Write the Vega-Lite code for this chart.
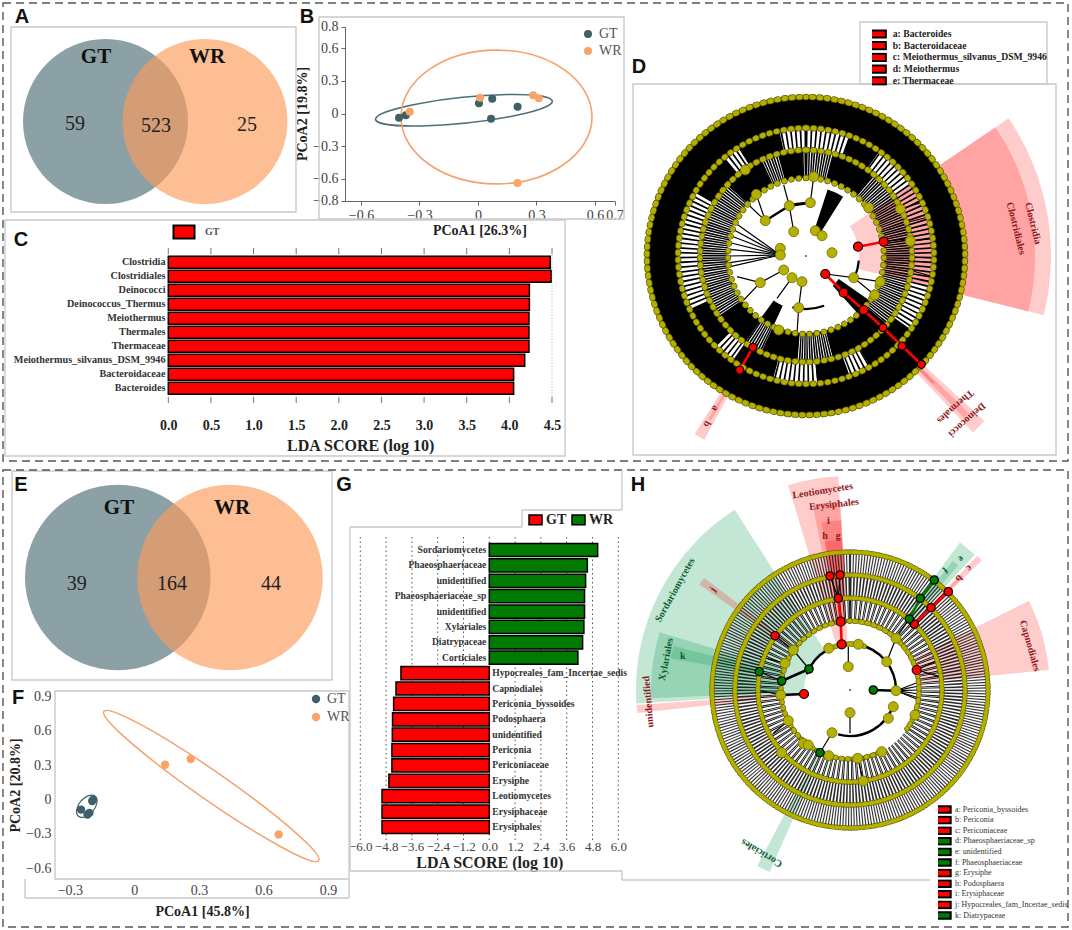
{
"$schema":"https://vega.github.io/schema/vega-lite/v6.json",
"width":1072,"height":930,"padding":0,"autosize":{"type":"none"},"background":"white",
"config":{"view":{"stroke":null},"axis":{"grid":false,"labelFont":"Liberation Serif","titleFont":"Liberation Serif","titleFontWeight":"bold","labelOverlap":false,"labelFlush":false},"text":{"font":"Liberation Serif"},"legend":{"labelFont":"Liberation Serif","titleFont":"Liberation Serif"}},
"resolve":{"scale":{"x":"independent","y":"independent","color":"independent","theta":"independent","radius":"independent"},"axis":{"x":"independent","y":"independent"},"legend":{"color":"independent"}},
"layer":[
{"encoding":{"x":{"field":"x","type":"quantitative","axis":null,"scale":{"domain":[0,1072],"range":[0,1072]}},"y":{"field":"y","type":"quantitative","axis":null,"scale":{"domain":[0,930],"range":[0,930]}}},
"layer":[
{"data":{"values":[{"x":11,"y":27,"x2":296,"y2":212},{"x":319,"y":17,"x2":624,"y2":219},{"x":5,"y":220,"x2":565,"y2":456},{"x":860,"y":22,"x2":1047,"y2":84},{"x":633,"y":84,"x2":1056,"y2":455},{"x":12,"y":471,"x2":332,"y2":680},{"x":55,"y":691,"x2":349,"y2":879}]},
"mark":{"type":"rect","fill":null,"fillOpacity":0,"stroke":"#c9c9c9","strokeWidth":1.4},"encoding":{"x2":{"field":"x2"},"y2":{"field":"y2"}}},
{"data":{"values":[{"x":350,"y":527,"x2":522,"y2":527},{"x":522,"y":510,"x2":522,"y2":527},{"x":522,"y":510,"x2":622,"y2":510},{"x":622,"y":471,"x2":622,"y2":510},{"x":350,"y":527,"x2":350,"y2":871},{"x":350,"y":871,"x2":622,"y2":871},{"x":622,"y":871,"x2":622,"y2":880},{"x":622,"y":880,"x2":930,"y2":880},{"x":25,"y":879,"x2":25,"y2":898},{"x":25,"y":898,"x2":349,"y2":898},{"x":349,"y":879,"x2":349,"y2":898}]},
"mark":{"type":"rule","stroke":"#c9c9c9","strokeWidth":1.4},"encoding":{"x2":{"field":"x2"},"y2":{"field":"y2"}}},
{"data":{"values":[{"x":3,"y":3,"x2":1068,"y2":461},{"x":3,"y":470,"x2":1068,"y2":927}]},
"mark":{"type":"rect","fill":null,"fillOpacity":0,"stroke":"#555555","strokeWidth":1.4,"strokeDash":[8,5]},"encoding":{"x2":{"field":"x2"},"y2":{"field":"y2"}}},
{"data":{"values":[{"x":105.5,"y":121.5,"s":"GT"},{"x":205,"y":121.5,"s":"WR"}]},
"mark":{"type":"point","filled":true,"size":27225,"opacity":0.65},"encoding":{"color":{"field":"s","type":"nominal","legend":null,"scale":{"domain":["GT","WR"],"range":["#4d6f75","#fc9b5a"]}}}},
{"data":{"values":[{"x":117.8,"y":577.5,"s":"GT"},{"x":230,"y":577.5,"s":"WR"}]},
"mark":{"type":"point","filled":true,"size":34447,"opacity":0.65},"encoding":{"color":{"field":"s","type":"nominal","legend":null}}},
{"data":{"values":[{"x":96,"y":57,"t":"GT"},{"x":207,"y":57,"t":"WR"},{"x":119,"y":508,"t":"GT"},{"x":232,"y":508,"t":"WR"}]},
"mark":{"type":"text","fontSize":21,"fontWeight":"bold","fill":"#111111","font":"Liberation Serif"},"encoding":{"text":{"field":"t"}}},
{"data":{"values":[{"x":75,"y":124,"t":"59"},{"x":156,"y":126,"t":"523"},{"x":247,"y":125,"t":"25"},{"x":76.7,"y":584,"t":"39"},{"x":172,"y":584,"t":"164"},{"x":271,"y":584,"t":"44"}]},
"mark":{"type":"text","fontSize":20,"fill":"#222222","font":"Liberation Serif"},"encoding":{"text":{"field":"t"}}},
{"data":{"values":[{"x":22,"y":17,"t":"A"},{"x":307,"y":17,"t":"B"},{"x":21,"y":240,"t":"C"},{"x":639,"y":67,"t":"D"},{"x":21,"y":485,"t":"E"},{"x":18,"y":698,"t":"F"},{"x":344,"y":485,"t":"G"},{"x":638,"y":485,"t":"H"}]},
"mark":{"type":"text","fontSize":20,"fontWeight":"bold","fill":"#111111","font":"Liberation Sans"},"encoding":{"text":{"field":"t"}}}
]},

{"encoding":{"x":{"field":"x","type":"quantitative","title":"PCoA1 [26.3%]","scale":{"domain":[-0.685,0.7],"range":[344.4,614.5]},"axis":{"orient":"bottom","offset":-729,"values":[-0.6,-0.3,0,0.3,0.6,0.7],"format":".2~f","labelFontSize":14,"labelColor":"#444444","titleFontSize":14,"titleColor":"#222222","tickColor":"#666666","domainColor":"#666666","tickSize":4,"labelPadding":3,"titlePadding":1}},
"y":{"field":"y","type":"quantitative","title":"PCoA2 [19.8%]","scale":{"domain":[-0.8,0.8],"range":[200.5,26.5]},"axis":{"orient":"left","offset":-345,"values":[-0.8,-0.6,-0.3,0,0.3,0.6,0.8],"format":".2~f","labelFontSize":14,"labelColor":"#444444","titleFontSize":14,"titleColor":"#222222","tickColor":"#666666","domainColor":"#666666","tickSize":4,"labelPadding":3,"titlePadding":3}}},
"layer":[
{"data":{"values":[{"x":-0.072,"y":0.03}]},"mark":{"type":"point","filled":false,"opacity":1,"stroke":"#4d6f75","strokeWidth":1.6,"size":31613,"shape":"M -0.9947 0.1028 A 1 0.145 -5.9 1 1 0.9947 -0.1028 A 1 0.145 -5.9 1 1 -0.9947 0.1028 Z"}},
{"data":{"values":[{"x":0.095,"y":-0.032}]},"mark":{"type":"point","filled":false,"opacity":1,"stroke":"#f4a36c","strokeWidth":1.6,"size":36481,"shape":"M -1 0 A 1 0.7 0 1 1 1 0 A 1 0.7 0 1 1 -1 0 Z"}},
{"data":{"values":[{"x":-0.405,"y":-0.038,"g":"GT"},{"x":-0.37,"y":-0.017,"g":"GT"},{"x":0.005,"y":0.094,"g":"GT"},{"x":0.073,"y":0.136,"g":"GT"},{"x":0.203,"y":0.063,"g":"GT"},{"x":0.067,"y":-0.048,"g":"GT"},{"x":-0.35,"y":0.017,"g":"WR"},{"x":0.011,"y":0.145,"g":"WR"},{"x":0.283,"y":0.167,"g":"WR"},{"x":0.312,"y":0.14,"g":"WR"},{"x":0.203,"y":-0.639,"g":"WR"}]},
"mark":{"type":"point","filled":true,"opacity":1,"size":64},
"encoding":{"color":{"field":"g","type":"nominal","scale":{"domain":["GT","WR"],"range":["#3e6068","#f8a469"]},"legend":{"orient":"none","legendX":581,"legendY":27,"title":null,"padding":0,"labelFontSize":14,"labelColor":"#555555","symbolSize":64,"rowPadding":3,"labelOffset":4}}}}
]},

{"data":{"values":[{"n":"Clostridia","v":4.48,"g":"GT"},{"n":"Clostridiales","v":4.49,"g":"GT"},{"n":"Deinococci","v":4.235,"g":"GT"},{"n":"Deinococcus_Thermus","v":4.235,"g":"GT"},{"n":"Meiothermus","v":4.23,"g":"GT"},{"n":"Thermales","v":4.23,"g":"GT"},{"n":"Thermaceae","v":4.23,"g":"GT"},{"n":"Meiothermus_silvanus_DSM_9946","v":4.18,"g":"GT"},{"n":"Bacteroidaceae","v":4.05,"g":"GT"},{"n":"Bacteroides","v":4.05,"g":"GT"}]},
"mark":{"type":"bar","stroke":"#000000","strokeWidth":1.5},
"encoding":{"x":{"field":"v","type":"quantitative","title":"LDA SCORE (log 10)","scale":{"domain":[0,4.5],"range":[168.3,552]},"axis":{"orient":"bottom","offset":-527,"values":[0,0.5,1,1.5,2,2.5,3,3.5,4,4.5],"format":".1f","ticks":false,"domain":false,"labelFontSize":14,"labelFontWeight":"bold","labelColor":"#222222","labelPadding":15,"titleFontSize":16,"titleColor":"#222222","titlePadding":5}},
"y":{"field":"n","type":"nominal","sort":null,"title":null,"scale":{"type":"band","domain":["Clostridia","Clostridiales","Deinococci","Deinococcus_Thermus","Meiothermus","Thermales","Thermaceae","Meiothermus_silvanus_DSM_9946","Bacteroidaceae","Bacteroides"],"range":[255.3,395.3],"paddingInner":0.14,"paddingOuter":0.07},"axis":{"orient":"left","offset":-168,"ticks":false,"domain":false,"labelFontSize":10.2,"labelFontWeight":"bold","labelColor":"#333333","labelPadding":3,"labelLimit":300}},
"color":{"field":"g","type":"nominal","scale":{"domain":["GT"],"range":["#ff0000"]},"legend":{"orient":"none","legendX":179,"legendY":227,"title":null,"padding":0,"labelFontSize":10,"labelFontWeight":"bold","labelColor":"#555555","symbolType":"M-3,-1.85H3V1.85H-3Z","symbolSize":49,"symbolStrokeWidth":2,"symbolStrokeColor":"#000000","labelOffset":16}}}},

{"encoding":{"x":{"field":"v","type":"quantitative","axis":null,"scale":{"domain":[0,4.5],"range":[168.3,552]}},"y":{"field":"a","type":"quantitative","axis":null,"scale":{"domain":[0,1],"range":[403,248]}},"y2":{"field":"b"}},
"layer":[
{"data":{"values":[{"v":0,"a":0,"b":0.04},{"v":0.5,"a":0,"b":0.04},{"v":1,"a":0,"b":0.04},{"v":1.5,"a":0,"b":0.04},{"v":2,"a":0,"b":0.04},{"v":2.5,"a":0,"b":0.04},{"v":3,"a":0,"b":0.04},{"v":3.5,"a":0,"b":0.04},{"v":4,"a":0,"b":0.04},{"v":4.5,"a":0,"b":0.04},{"v":0,"a":0.96,"b":1},{"v":0.5,"a":0.96,"b":1},{"v":1,"a":0.96,"b":1},{"v":1.5,"a":0.96,"b":1},{"v":2,"a":0.96,"b":1},{"v":2.5,"a":0.96,"b":1},{"v":3,"a":0.96,"b":1},{"v":3.5,"a":0.96,"b":1},{"v":4,"a":0.96,"b":1},{"v":4.5,"a":0.96,"b":1}]},"mark":{"type":"rule","stroke":"#777777","strokeWidth":1}},
{"data":{"values":[{"v":4.5,"a":0.04,"b":0.96}]},"mark":{"type":"rule","stroke":"#aaaaaa","strokeWidth":1,"strokeDash":[1,2]}}
]},

{"encoding":{"x":{"field":"v","type":"quantitative","axis":null,"scale":{"domain":[-6,6],"range":[360.3,618.3]}},"y":{"field":"a","type":"quantitative","axis":null,"scale":{"domain":[0,1],"range":[840,535]}},"y2":{"field":"b"}},
"data":{"values":[{"v":-6,"a":0,"b":1},{"v":-4.8,"a":0,"b":1},{"v":-3.6,"a":0,"b":1},{"v":-2.4,"a":0,"b":1},{"v":-1.2,"a":0,"b":1},{"v":0,"a":0,"b":1},{"v":1.2,"a":0,"b":1},{"v":2.4,"a":0,"b":1},{"v":3.6,"a":0,"b":1},{"v":4.8,"a":0,"b":1},{"v":6,"a":0,"b":1}]},
"mark":{"type":"rule","stroke":"#555555","strokeWidth":1,"strokeDash":[1.5,3]}},

{"data":{"values":[{"n":"Sordariomycetes","i":1,"v":5.04,"g":"WR"},{"n":"Phaeosphaeriaceae","i":2,"v":4.56,"g":"WR"},{"n":"unidentified","i":3,"v":4.48,"g":"WR"},{"n":"Phaeosphaeriaceae_sp","i":4,"v":4.43,"g":"WR"},{"n":"unidentified","i":5,"v":4.43,"g":"WR"},{"n":"Xylariales","i":6,"v":4.4,"g":"WR"},{"n":"Diatrypaceae","i":7,"v":4.34,"g":"WR"},{"n":"Corticiales","i":8,"v":4.12,"g":"WR"},{"n":"Hypocreales_fam_Incertae_sedis","i":9,"v":-4.11,"g":"GT"},{"n":"Capnodiales","i":10,"v":-4.34,"g":"GT"},{"n":"Periconia_byssoides","i":11,"v":-4.45,"g":"GT"},{"n":"Podosphaera","i":12,"v":-4.5,"g":"GT"},{"n":"unidentified","i":13,"v":-4.51,"g":"GT"},{"n":"Periconia","i":14,"v":-4.53,"g":"GT"},{"n":"Periconiaceae","i":15,"v":-4.53,"g":"GT"},{"n":"Erysiphe","i":16,"v":-4.67,"g":"GT"},{"n":"Leotiomycetes","i":17,"v":-4.99,"g":"GT"},{"n":"Erysiphaceae","i":18,"v":-4.99,"g":"GT"},{"n":"Erysiphales","i":19,"v":-4.99,"g":"GT"}]},
"encoding":{"y":{"field":"i","type":"ordinal","axis":null,"scale":{"type":"band","domain":[1,2,3,4,5,6,7,8,9,10,11,12,13,14,15,16,17,18,19],"range":[542.3,834.7],"paddingInner":0.14,"paddingOuter":0.07}}},
"layer":[
{"mark":{"type":"bar","stroke":"#000000","strokeWidth":1.5},
"encoding":{"x":{"field":"v","type":"quantitative","title":"LDA SCORE (log 10)","scale":{"domain":[-6,6],"range":[360.3,618.3]},"axis":{"orient":"bottom","offset":-95,"values":[-6,-4.8,-3.6,-2.4,-1.2,0,1.2,2.4,3.6,4.8,6],"format":".1f","ticks":false,"domain":false,"labelFontSize":13,"labelColor":"#444444","labelPadding":5,"titleFontSize":16,"titleColor":"#222222","titlePadding":1}},
"color":{"field":"g","type":"nominal","scale":{"domain":["GT","WR"],"range":["#ff0000","#007a00"]},"legend":{"orient":"none","legendX":528,"legendY":512,"direction":"horizontal","columns":2,"title":null,"padding":0,"labelFontSize":14,"labelFontWeight":"bold","labelColor":"#222222","symbolType":"M-1,-0.75H1V0.75H-1Z","symbolSize":169,"symbolStrokeWidth":1.5,"symbolStrokeColor":"#000000","labelOffset":3,"columnPadding":2}}}},
{"transform":[{"filter":"datum.g=='WR'"}],"mark":{"type":"text","align":"right","dx":-3,"fontSize":9.6,"fontWeight":"bold","fill":"#333333","font":"Liberation Serif"},"encoding":{"x":{"datum":0,"type":"quantitative"},"text":{"field":"n"}}},
{"transform":[{"filter":"datum.g=='GT'"}],"mark":{"type":"text","align":"left","dx":3,"fontSize":9.6,"fontWeight":"bold","fill":"#333333","font":"Liberation Serif"},"encoding":{"x":{"datum":0,"type":"quantitative"},"text":{"field":"n"}}}
]},

{"encoding":{"x":{"field":"x","type":"quantitative","title":"PCoA1 [45.8%]","scale":{"domain":[-0.369,0.998],"range":[55,349]},"axis":{"orient":"bottom","offset":-51,"values":[-0.3,0,0.3,0.6,0.9],"format":".2~f","domain":false,"ticks":false,"labelFontSize":14,"labelColor":"#444444","labelPadding":4,"titleFontSize":14,"titleColor":"#222222","titlePadding":7}},
"y":{"field":"y","type":"quantitative","title":"PCoA2 [20.8%]","scale":{"domain":[-0.693,0.948],"range":[879,691]},"axis":{"orient":"left","offset":-55,"values":[-0.6,-0.3,0,0.3,0.6,0.9],"format":".2~f","domain":false,"ticks":false,"labelFontSize":14,"labelColor":"#444444","labelPadding":4,"titleFontSize":14,"titleColor":"#222222","titlePadding":3}}},
"layer":[
{"data":{"values":[{"x":0.358,"y":0.119}]},"mark":{"type":"point","filled":false,"opacity":1,"stroke":"#f4a36c","strokeWidth":1.5,"size":68435,"shape":"M -0.821 -0.571 A 1 0.11 34.8 1 1 0.821 0.571 A 1 0.11 34.8 1 1 -0.821 -0.571 Z"}},
{"data":{"values":[{"x":-0.221,"y":-0.058}]},"mark":{"type":"point","filled":false,"opacity":1,"stroke":"#3e6068","strokeWidth":1.2,"size":676,"shape":"M -0.643 0.766 A 1 0.6 -50 1 1 0.643 -0.766 A 1 0.6 -50 1 1 -0.643 0.766 Z"}},
{"data":{"values":[{"x":-0.248,"y":-0.087,"g":"GT"},{"x":-0.209,"y":-0.116,"g":"GT"},{"x":-0.192,"y":0,"g":"GT"},{"x":-0.196,"y":-0.012,"g":"GT"},{"x":-0.218,"y":-0.13,"g":"GT"},{"x":0.143,"y":0.304,"g":"WR"},{"x":0.262,"y":0.354,"g":"WR"},{"x":0.671,"y":-0.304,"g":"WR"}]},
"mark":{"type":"point","filled":true,"opacity":1,"size":70},
"encoding":{"color":{"field":"g","type":"nominal","scale":{"domain":["GT","WR"],"range":["#3e6068","#f8a469"]},"legend":{"orient":"none","legendX":309,"legendY":692,"title":null,"padding":0,"labelFontSize":14,"labelColor":"#555555","symbolSize":70,"rowPadding":4,"labelOffset":4}}}}
]},

{"encoding":{"x":{"field":"x","type":"quantitative","axis":null,"scale":{"domain":[-200,250],"range":[606,1056]}},"y":{"field":"y","type":"quantitative","axis":null,"scale":{"domain":[-220,240],"range":[476,16]}},
"theta":{"field":"t","type":"quantitative","stack":null,"scale":{"domain":[0,360],"range":[0,6.28319]}},"theta2":{"field":"t2"},"radius":{"field":"r","type":"quantitative","scale":{"type":"linear","domain":[0,250],"range":[0,250]}},"radius2":{"field":"r0"}},
"layer":[
{"data":{"values":[{"x":0,"y":0,"t":55.8,"t2":104,"r0":53,"r":245},{"x":0,"y":0,"t":55.8,"t2":104,"r0":78,"r":229},{"x":0,"y":0,"t":132.8,"t2":136.6,"r0":26,"r":243},{"x":0,"y":0,"t":134,"t2":135.6,"r0":53,"r":226},{"x":0,"y":0,"t":134.4,"t2":135.2,"r0":79,"r":180},{"x":0,"y":0,"t":209,"t2":212,"r0":105,"r":210},{"x":0,"y":0,"t":210,"t2":211,"r0":132,"r":190}]},
"mark":{"type":"arc","fill":"#ff0000","fillOpacity":0.2}},
{"data":{"values":[{"x":0,"y":0,"t":0,"t2":360,"r0":128,"r":159},{"x":0,"y":0,"t":300,"t2":320,"r0":106,"r":128},{"x":0,"y":0,"t":328,"t2":348,"r0":106,"r":128},{"x":0,"y":0,"t":20,"t2":35,"r0":106,"r":128},{"x":0,"y":0,"t":125,"t2":150,"r0":106,"r":128},{"x":0,"y":0,"t":160,"t2":175,"r0":106,"r":128},{"x":0,"y":0,"t":195,"t2":215,"r0":106,"r":128},{"x":0,"y":0,"t":225,"t2":245,"r0":106,"r":128},{"x":0,"y":0,"t":345,"t2":358,"r0":78,"r":106},{"x":0,"y":0,"t":15,"t2":40,"r0":78,"r":106},{"x":0,"y":0,"t":130,"t2":165,"r0":78,"r":106},{"x":0,"y":0,"t":185,"t2":205,"r0":78,"r":106},{"x":0,"y":0,"t":215,"t2":235,"r0":78,"r":106},{"x":0,"y":0,"t":312,"t2":325,"r0":78,"r":106},{"x":0,"y":0,"t":18,"t2":32,"r0":28,"r":70},{"x":0,"y":0,"t":125,"t2":138,"r0":40,"r":78},{"x":0,"y":0,"t":205,"t2":216,"r0":55,"r":78},{"x":0,"y":0,"t":320,"t2":335,"r0":78,"r":106}]},
"mark":{"type":"arc","fill":"#000000"}},
{"data":{"values":[{"x":0,"y":0,"t":0,"t2":360,"r0":92,"r":92}]},"mark":{"type":"arc","filled":false,"stroke":"#000000","strokeWidth":27,"strokeDash":[1.5,3.2]}},
{"data":{"values":[{"x":0,"y":0,"t":0,"t2":360,"r0":117,"r":117}]},"mark":{"type":"arc","filled":false,"stroke":"#000000","strokeWidth":22,"strokeDash":[1.5,3]}},
{"data":{"values":[{"x":0,"y":0,"t":95,"t2":113,"r0":53,"r":53},{"x":0,"y":0,"t":160,"t2":195,"r0":53,"r":53},{"x":0,"y":0,"t":340,"t2":365,"r0":53,"r":53},{"x":0,"y":0,"t":160,"t2":200,"r0":78,"r":78}]},"mark":{"type":"arc","filled":false,"stroke":"#000000","strokeWidth":2.2}},
{"data":{"values":[{"x":-12.3,"y":24.3,"x2":-16.7,"y2":50.3},{"x":-40.7,"y":35.3,"x2":-57.3,"y2":51},{"x":-40.7,"y":35.3,"x2":-49.7,"y2":61.7},{"x":4.3,"y":53.3,"x2":7.7,"y2":79.3},{"x":-16.7,"y":50.3,"x2":-22.3,"y2":71},{"x":-49.7,"y":61.7,"x2":-60.7,"y2":86},{"x":77.7,"y":14.3,"x2":104.3,"y2":17.7},{"x":104.3,"y":15,"x2":127.7,"y2":17.7},{"x":94.3,"y":47,"x2":118,"y2":54.3},{"x":99,"y":33,"x2":122,"y2":39},{"x":105,"y":-1,"x2":128,"y2":-2},{"x":103,"y":-14,"x2":125,"y2":-20},{"x":47.7,"y":-21.7,"x2":74.3,"y2":-25.7},{"x":47.7,"y":-21.7,"x2":68.7,"y2":-39},{"x":-4,"y":-25.7,"x2":-7.3,"y2":-51.7},{"x":-7.3,"y":-51.7,"x2":-9,"y2":-77.3},{"x":-27.3,"y":-74,"x2":-31.7,"y2":-97.3},{"x":-22.3,"y":-14,"x2":-45.7,"y2":-26.7},{"x":-45.7,"y":-26.7,"x2":-62.3,"y2":-44},{"x":-45.7,"y":-26.7,"x2":-69,"y2":-20.7},{"x":-14,"y":-21.7,"x2":-29,"y2":-42.3},{"x":-25.7,"y":1,"x2":-75.3,"y2":20.2},{"x":-25.7,"y":1,"x2":-76.8,"y2":13.5},{"x":-25.7,"y":1,"x2":-77.7,"y2":6.8},{"x":-25.7,"y":1,"x2":-78,"y2":0},{"x":-25.7,"y":1,"x2":-77.7,"y2":-6.8},{"x":-25.7,"y":1,"x2":-73.3,"y2":26.7},{"x":-25.7,"y":1,"x2":-70.7,"y2":33},{"x":-25.7,"y":1,"x2":-77,"y2":-10.9},{"x":19.3,"y":-18,"x2":47.7,"y2":-21.7}]},
"mark":{"type":"rule","stroke":"#000000","strokeWidth":1.2},"encoding":{"x2":{"field":"x2"},"y2":{"field":"y2"}}},
{"data":{"values":[{"x":-16.7,"y":50.3,"x2":4.3,"y2":53.3},{"x":-16.7,"y":50.3,"x2":-40.7,"y2":35.3}]},"mark":{"type":"rule","stroke":"#000000","strokeWidth":2.4},"encoding":{"x2":{"field":"x2"},"y2":{"field":"y2"}}},
{"data":{"values":[{"x":52,"y":9.3,"x2":77.7,"y2":14.3},{"x":19.3,"y":-18,"x2":37.7,"y2":-36.7},{"x":37.7,"y":-36.7,"x2":57.7,"y2":-54},{"x":57.7,"y":-54,"x2":77,"y2":-71.7},{"x":77,"y":-71.7,"x2":96,"y2":-90},{"x":96,"y":-90,"x2":115.3,"y2":-108.3},{"x":-53,"y":-91.3,"x2":-66.3,"y2":-114}]},"mark":{"type":"rule","stroke":"#ff0000","strokeWidth":2.6},"encoding":{"x2":{"field":"x2"},"y2":{"field":"y2"}}},
{"data":{"values":[{"x":0,"y":0,"t":0,"t2":360,"r0":159,"r":159},{"x":0,"y":0,"t":0,"t2":360,"r0":128,"r":128},{"x":0,"y":0,"t":0,"t2":360,"r0":106,"r":106},{"x":0,"y":0,"t":0,"t2":360,"r0":78,"r":78}]},"mark":{"type":"arc","filled":false,"stroke":"#5f5a00","strokeWidth":6.4,"strokeCap":"round","strokeDash":[0.1,7.2]}},
{"data":{"values":[{"x":0,"y":0,"t":0,"t2":360,"r0":159,"r":159},{"x":0,"y":0,"t":0,"t2":360,"r0":128,"r":128},{"x":0,"y":0,"t":0,"t2":360,"r0":106,"r":106},{"x":0,"y":0,"t":0,"t2":360,"r0":78,"r":78}]},"mark":{"type":"arc","filled":false,"stroke":"#b4b000","strokeWidth":5,"strokeCap":"round","strokeDash":[0.1,7.2]}},
{"data":{"values":[{"x":-12.3,"y":24.3},{"x":26,"y":3.3},{"x":-4,"y":-25.7},{"x":-22.3,"y":-14},{"x":4.3,"y":53.3},{"x":-40.7,"y":35.3},{"x":-16.7,"y":50.3},{"x":9.3,"y":25.3},{"x":16,"y":20.3},{"x":47.7,"y":-21.7},{"x":-7.3,"y":-51.7},{"x":-27.3,"y":-74},{"x":-45.7,"y":-26.7},{"x":-14,"y":-21.7},{"x":-25.7,"y":7.7},{"x":-25.7,"y":1},{"x":-49.7,"y":61.7},{"x":-60.7,"y":86},{"x":7.7,"y":79.3},{"x":74.3,"y":-25.7},{"x":68.7,"y":-39},{"x":104.3,"y":15},{"x":94.3,"y":47},{"x":62.7,"y":48.3}]},"mark":{"type":"point","filled":true,"opacity":1,"fill":"#b4b000","stroke":"#6f6a00","strokeWidth":0.8,"size":100}},
{"data":{"values":[{"x":0,"y":0}]},"mark":{"type":"point","filled":true,"opacity":1,"fill":"#556b2f","size":5}},
{"data":{"values":[{"x":52,"y":9.3},{"x":77.7,"y":14.3},{"x":57.7,"y":-54},{"x":37.7,"y":-36.7},{"x":19.3,"y":-18}]},"mark":{"type":"point","filled":true,"opacity":1,"fill":"#ff0000","stroke":"#000000","strokeWidth":1.2,"size":81}},
{"data":{"values":[{"x":-66.3,"y":-114,"n":"a: Bacteroides"},{"x":-53,"y":-91.3,"n":"b: Bacteroidaceae"},{"x":115.3,"y":-108.3,"n":"c: Meiothermus_silvanus_DSM_9946"},{"x":96,"y":-90,"n":"d: Meiothermus"},{"x":77,"y":-71.7,"n":"e: Thermaceae"}]},
"mark":{"type":"point","filled":true,"opacity":1,"stroke":"#000000","strokeWidth":1.2,"size":64},
"encoding":{"color":{"field":"n","type":"nominal","scale":{"domain":["a: Bacteroides","b: Bacteroidaceae","c: Meiothermus_silvanus_DSM_9946","d: Meiothermus","e: Thermaceae"],"range":["#ff0000","#ff0000","#ff0000","#ff0000","#ff0000"]},"legend":{"orient":"none","legendX":872,"legendY":29,"title":null,"padding":0,"labelFontSize":9.7,"labelFontWeight":"bold","labelColor":"#222222","labelLimit":300,"symbolType":"M-3,-1.2H3V1.2H-3Z","symbolSize":36,"symbolStrokeWidth":2,"symbolStrokeColor":"#000000","labelOffset":11,"rowPadding":1.7,"clipHeight":10}}}}
]},

{"data":{"values":[{"x":227,"y":32.7,"n":"Clostridia","b":76},{"x":210,"y":27.7,"n":"Clostridiales","b":76},{"x":149.3,"y":-150.7,"n":"Thermales","b":138},{"x":161,"y":-164,"n":"Deinococci","b":138},{"x":-90.7,"y":-152.3,"n":"a","b":120},{"x":-99,"y":-168,"n":"b","b":120}]},
"mark":{"type":"text","fontSize":10,"fontWeight":"bold","fill":"#8b1a1a","font":"Liberation Serif"},
"encoding":{"x":{"field":"x","type":"quantitative","axis":null,"scale":{"domain":[-200,250],"range":[606,1056]}},"y":{"field":"y","type":"quantitative","axis":null,"scale":{"domain":[-220,240],"range":[476,16]}},"text":{"field":"n"},"angle":{"field":"b","type":"quantitative","scale":null}}},

{"encoding":{"x":{"field":"x","type":"quantitative","axis":null,"scale":{"domain":[-220,220],"range":[630,1070]}},"y":{"field":"y","type":"quantitative","axis":null,"scale":{"domain":[-235,220],"range":[925,470]}},
"theta":{"field":"t","type":"quantitative","stack":null,"scale":{"domain":[0,360],"range":[0,6.28319]}},"theta2":{"field":"t2"},"radius":{"field":"r","type":"quantitative","scale":{"type":"linear","domain":[0,250],"range":[0,250]}},"radius2":{"field":"r0"}},
"layer":[
{"data":{"values":[{"x":0,"y":0,"t":266.4,"t2":327.4,"r0":46,"r":214},{"x":0,"y":0,"t":267.6,"t2":286.9,"r0":69,"r":199},{"x":0,"y":0,"t":280,"t2":284,"r0":92,"r":182},{"x":0,"y":0,"t":203.8,"t2":207.8,"r0":69,"r":199},{"x":0,"y":0,"t":36.7,"t2":42.7,"r0":92,"r":184},{"x":0,"y":0,"t":38.5,"t2":41,"r0":115,"r":165}]},
"mark":{"type":"arc","fill":"#0a9a50","fillOpacity":0.24}},
{"data":{"values":[{"x":0,"y":0,"t":263.8,"t2":266,"r0":46,"r":214},{"x":0,"y":0,"t":305,"t2":307.6,"r0":69,"r":184},{"x":0,"y":0,"t":343.2,"t2":356.9,"r0":46,"r":214},{"x":0,"y":0,"t":348.6,"t2":357.1,"r0":69,"r":189},{"x":0,"y":0,"t":350.4,"t2":357.2,"r0":92,"r":170},{"x":0,"y":0,"t":350.4,"t2":354,"r0":115,"r":150},{"x":0,"y":0,"t":354,"t2":357,"r0":115,"r":150},{"x":0,"y":0,"t":63.5,"t2":84.2,"r0":69,"r":200},{"x":0,"y":0,"t":43.5,"t2":45.5,"r0":92,"r":185},{"x":0,"y":0,"t":44,"t2":45,"r0":115,"r":160}]},
"mark":{"type":"arc","fill":"#ff0000","fillOpacity":0.2}},
{"data":{"values":[{"x":0,"y":0,"t":0,"t2":360,"r0":127,"r":127}]},"mark":{"type":"arc","filled":false,"stroke":"#111111","strokeWidth":22,"strokeDash":[1,1.7],"opacity":0.85}},
{"data":{"values":[{"x":0,"y":0,"t":0,"t2":360,"r0":103,"r":103}]},"mark":{"type":"arc","filled":false,"stroke":"#111111","strokeWidth":22,"strokeDash":[1,2.1],"opacity":0.9}},
{"data":{"values":[{"x":0,"y":0,"t":0,"t2":360,"r0":80,"r":80}]},"mark":{"type":"arc","filled":false,"stroke":"#111111","strokeWidth":22,"strokeDash":[0.9,3.6]}},
{"data":{"values":[{"x":0,"y":0,"t":290,"t2":450,"r0":46,"r":46},{"x":0,"y":0,"t":105,"t2":195,"r0":46,"r":46},{"x":0,"y":0,"t":155,"t2":200,"r0":69,"r":69},{"x":0,"y":0,"t":165,"t2":190,"r0":92,"r":92}]},"mark":{"type":"arc","filled":false,"stroke":"#000000","strokeWidth":2.4}},
{"data":{"values":[{"x":-1.7,"y":23.3,"x2":-1.7,"y2":43.3},{"x":0,"y":-22.7,"x2":0,"y2":-43.3},{"x":-18,"y":-42.7,"x2":-30,"y2":-62.7},{"x":-61.7,"y":-30.7,"x2":-76.7,"y2":-43.3},{"x":36.7,"y":28.3,"x2":46,"y2":51.7},{"x":46,"y":51.7,"x2":59.3,"y2":71},{"x":46,"y":51.7,"x2":26.7,"y2":65},{"x":66.7,"y":20,"x2":88.3,"y2":30},{"x":66.7,"y":20,"x2":90,"y2":13.3},{"x":-11.7,"y":91.7,"x2":-20,"y2":114},{"x":-11.7,"y":91.7,"x2":-10,"y2":115},{"x":-68.3,"y":9,"x2":-90.7,"y2":18.3},{"x":-56.7,"y":40,"x2":-41,"y2":21},{"x":-56.7,"y":40,"x2":-75,"y2":54.3},{"x":-65,"y":26.7,"x2":-90,"y2":33.3},{"x":7.7,"y":-68.3,"x2":13.3,"y2":-91},{"x":-69.3,"y":-5,"x2":-91.7,"y2":0},{"x":46,"y":-0.7,"x2":69,"y2":8},{"x":46,"y":-0.7,"x2":69,"y2":4},{"x":46,"y":-0.7,"x2":69,"y2":0},{"x":46,"y":-0.7,"x2":69,"y2":-4},{"x":46,"y":-0.7,"x2":69,"y2":-8},{"x":46,"y":-0.7,"x2":69,"y2":-10}]},
"mark":{"type":"rule","stroke":"#000000","strokeWidth":1.2},"encoding":{"x2":{"field":"x2"},"y2":{"field":"y2"}}},
{"data":{"values":[{"x":-46,"y":-4,"x2":-69.3,"y2":-5},{"x":-41,"y":21,"x2":-68.3,"y2":9},{"x":23.3,"y":0,"x2":46,"y2":-0.7}]},"mark":{"type":"rule","stroke":"#000000","strokeWidth":2.6},"encoding":{"x2":{"field":"x2"},"y2":{"field":"y2"}}},
{"data":{"values":[{"x":-8.3,"y":45.7,"x2":-9.3,"y2":68.3},{"x":-9.3,"y":68.3,"x2":-11.7,"y2":91.7},{"x":64.3,"y":66,"x2":81,"y2":82.3},{"x":81,"y":82.3,"x2":98.3,"y2":98.3}]},"mark":{"type":"rule","stroke":"#ff0000","strokeWidth":2.6},"encoding":{"x2":{"field":"x2"},"y2":{"field":"y2"}}},
{"data":{"values":[{"x":59.3,"y":71,"x2":70.3,"y2":91.7},{"x":70.3,"y":91.7,"x2":84.3,"y2":110}]},"mark":{"type":"rule","stroke":"#007a00","strokeWidth":2.6},"encoding":{"x2":{"field":"x2"},"y2":{"field":"y2"}}},
{"data":{"values":[{"x":0,"y":0,"t":0,"t2":360,"r0":138,"r":138},{"x":0,"y":0,"t":0,"t2":360,"r0":115,"r":115},{"x":0,"y":0,"t":0,"t2":360,"r0":92,"r":92},{"x":0,"y":0,"t":155,"t2":360,"r0":69,"r":69},{"x":0,"y":0,"t":0,"t2":125,"r0":69,"r":69},{"x":0,"y":0,"t":335,"t2":380,"r0":46,"r":46}]},"mark":{"type":"arc","filled":false,"stroke":"#5f5a00","strokeWidth":5.4,"strokeCap":"round","strokeDash":[0.1,6.2]}},
{"data":{"values":[{"x":0,"y":0,"t":0,"t2":360,"r0":138,"r":138},{"x":0,"y":0,"t":0,"t2":360,"r0":115,"r":115},{"x":0,"y":0,"t":0,"t2":360,"r0":92,"r":92},{"x":0,"y":0,"t":155,"t2":360,"r0":69,"r":69},{"x":0,"y":0,"t":0,"t2":125,"r0":69,"r":69},{"x":0,"y":0,"t":335,"t2":380,"r0":46,"r":46}]},"mark":{"type":"arc","filled":false,"stroke":"#b4b000","strokeWidth":4.2,"strokeCap":"round","strokeDash":[0.1,6.2]}},
{"data":{"values":[{"x":-1.7,"y":23.3},{"x":0,"y":-22.7},{"x":-18,"y":-42.7},{"x":-61.7,"y":-30.7},{"x":46,"y":-0.7},{"x":36.7,"y":28.3},{"x":46,"y":51.7},{"x":-56.7,"y":40},{"x":-65,"y":26.7},{"x":-69.3,"y":-5},{"x":8.3,"y":45.7},{"x":-21.3,"y":41.7},{"x":7.7,"y":-68.3},{"x":13.3,"y":-91},{"x":-46.7,"y":-53.3},{"x":-41.7,"y":-55},{"x":-21.3,"y":-65.7},{"x":31.7,"y":-61.7},{"x":43.3,"y":-16.7},{"x":65,"y":-25},{"x":38.3,"y":-28.3},{"x":-68.3,"y":-62.7}]},"mark":{"type":"point","filled":true,"opacity":1,"fill":"#b4b000","stroke":"#6f6a00","strokeWidth":0.8,"size":100}},
{"data":{"values":[{"x":0,"y":0}]},"mark":{"type":"point","filled":true,"opacity":1,"fill":"#556b2f","size":5}},
{"data":{"values":[{"x":-46,"y":-4},{"x":-8.3,"y":45.7},{"x":-9.3,"y":68.3},{"x":66.7,"y":20}]},"mark":{"type":"point","filled":true,"opacity":1,"fill":"#ff0000","stroke":"#000000","strokeWidth":1.2,"size":81}},
{"data":{"values":[{"x":23.3,"y":0},{"x":-41,"y":21},{"x":-68.3,"y":9},{"x":-30,"y":-62.7}]},"mark":{"type":"point","filled":true,"opacity":1,"fill":"#007a00","stroke":"#000000","strokeWidth":1.2,"size":70}},
{"data":{"values":[{"x":98.3,"y":98.3,"n":"a: Periconia_byssoides"},{"x":81,"y":82.3,"n":"b: Periconia"},{"x":64.3,"y":66,"n":"c: Periconiaceae"},{"x":84.3,"y":110,"n":"d: Phaeosphaeriaceae_sp"},{"x":70.3,"y":91.7,"n":"e: unidentified"},{"x":59.3,"y":71,"n":"f: Phaeosphaeriaceae"},{"x":-10,"y":115,"n":"g: Erysiphe"},{"x":-20,"y":114,"n":"h: Podosphaera"},{"x":-11.7,"y":91.7,"n":"i: Erysiphaceae"},{"x":-75,"y":54.3,"n":"j: Hypocreales_fam_Incertae_sedis"},{"x":-90.7,"y":18.3,"n":"k: Diatrypaceae"}]},
"mark":{"type":"point","filled":true,"opacity":1,"stroke":"#000000","strokeWidth":1.2,"size":70},
"encoding":{"color":{"field":"n","type":"nominal","scale":{"domain":["a: Periconia_byssoides","b: Periconia","c: Periconiaceae","d: Phaeosphaeriaceae_sp","e: unidentified","f: Phaeosphaeriaceae","g: Erysiphe","h: Podosphaera","i: Erysiphaceae","j: Hypocreales_fam_Incertae_sedis","k: Diatrypaceae"],"range":["#ff0000","#ff0000","#ff0000","#007a00","#007a00","#007a00","#ff0000","#ff0000","#ff0000","#ff0000","#007a00"]},"legend":{"orient":"none","legendX":938,"legendY":805,"title":null,"padding":0,"labelFontSize":8,"labelColor":"#333333","labelLimit":300,"symbolType":"M-2.9,-1.1H2.9V1.1H-2.9Z","symbolSize":36,"symbolStrokeWidth":2,"symbolStrokeColor":"#000000","labelOffset":9,"rowPadding":1.6,"clipHeight":9}}}}
]},

{"data":{"values":[{"x":-27.3,"y":199.3,"n":"Leotiomycetes","b":-9,"g":"GT"},{"x":-16,"y":185.7,"n":"Erysiphales","b":-6,"g":"GT"},{"x":-21.5,"y":169,"n":"i","b":0,"g":"GT"},{"x":-25,"y":154,"n":"h","b":0,"g":"GT"},{"x":-11.7,"y":154,"n":"g","b":0,"g":"GT"},{"x":-175,"y":100,"n":"Sordariomycetes","b":-61,"g":"WR"},{"x":-184,"y":30.7,"n":"Xylariales","b":-79,"g":"WR"},{"x":-167.3,"y":34,"n":"k","b":0,"g":"WR"},{"x":-201.7,"y":-11.7,"n":"unidentified","b":-95,"g":"GT"},{"x":-137.3,"y":100.7,"n":"j","b":-55,"g":"GT"},{"x":180,"y":44.3,"n":"Capnodiales","b":74,"g":"GT"},{"x":-88.3,"y":-163.3,"n":"Corticiales","b":211,"g":"WR"},{"x":119,"y":121.7,"n":"c","b":135,"g":"GT"},{"x":109,"y":111.7,"n":"b","b":135,"g":"GT"},{"x":111,"y":131,"n":"e","b":135,"g":"WR"},{"x":95,"y":120,"n":"f","b":135,"g":"WR"}]},
"mark":{"type":"text","fontSize":10,"fontWeight":"bold","font":"Liberation Serif"},
"encoding":{"x":{"field":"x","type":"quantitative","axis":null,"scale":{"domain":[-220,220],"range":[630,1070]}},"y":{"field":"y","type":"quantitative","axis":null,"scale":{"domain":[-235,220],"range":[925,470]}},"text":{"field":"n"},"angle":{"field":"b","type":"quantitative","scale":null},"color":{"field":"g","type":"nominal","legend":null,"scale":{"domain":["GT","WR"],"range":["#8b1a1a","#0b5d2a"]}}}}
]
}
